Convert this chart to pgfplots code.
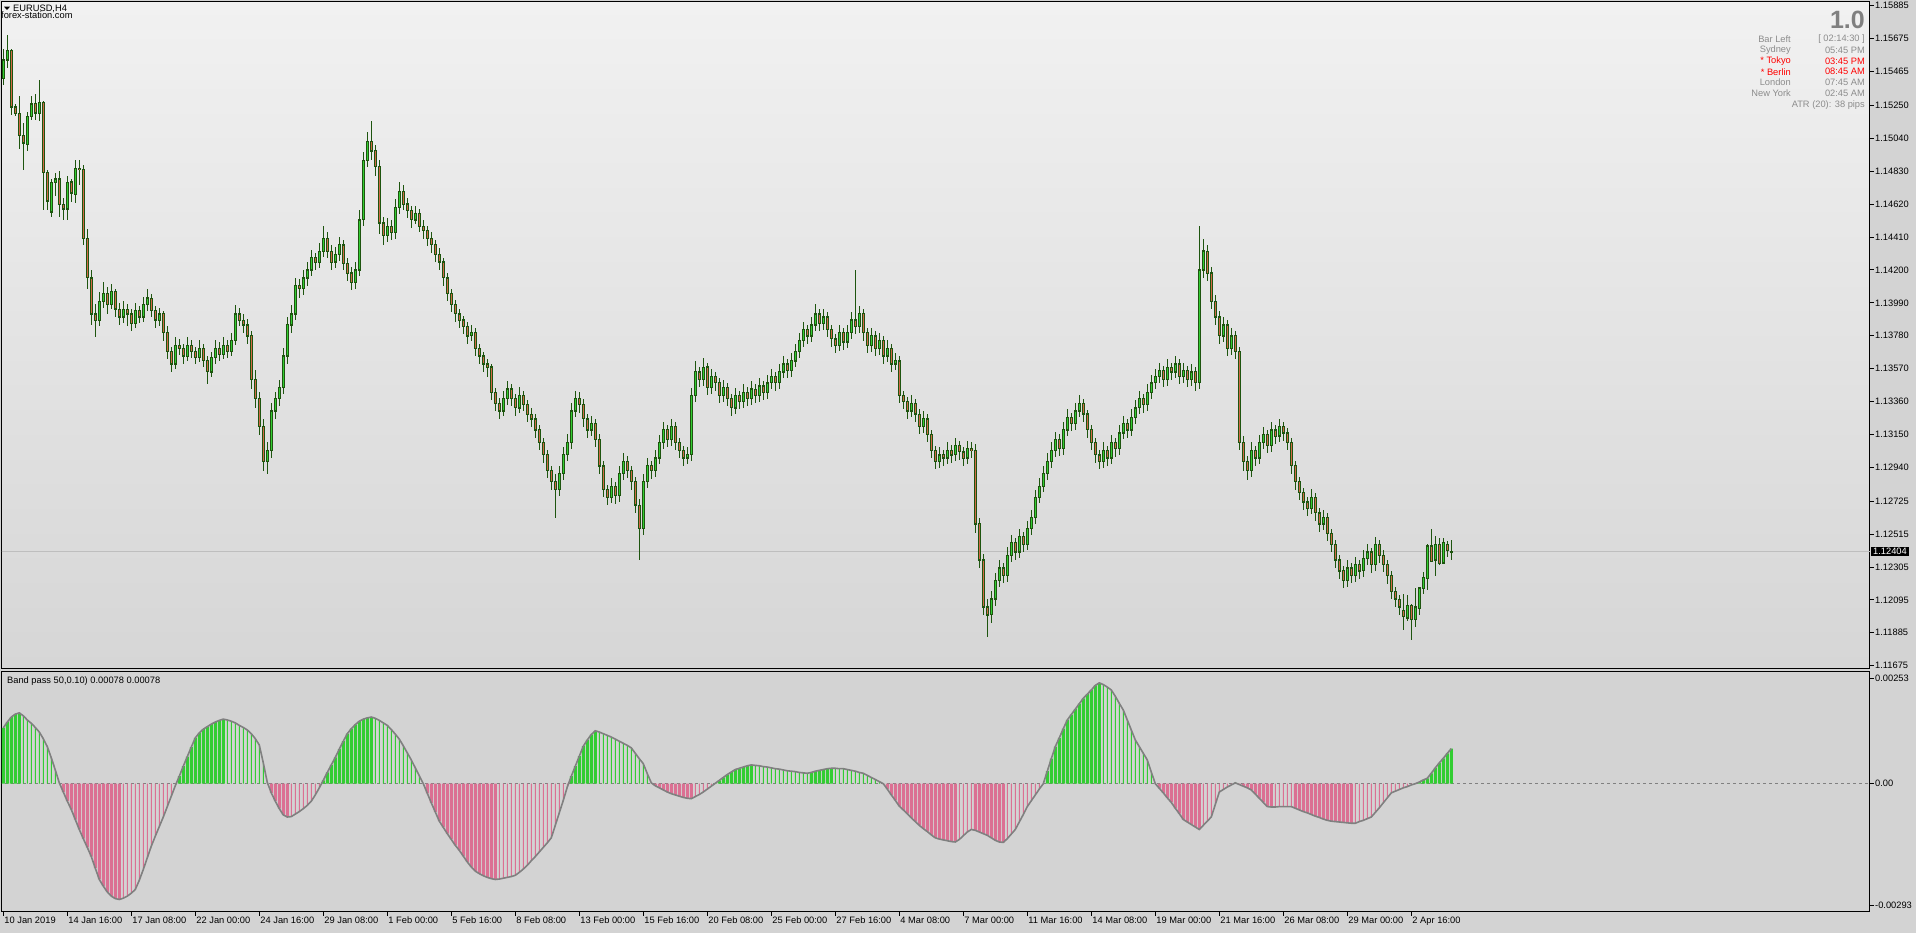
\documentclass[border=0pt]{standalone}
\usepackage{fontspec}
\setmainfont{Liberation Sans}
\usepackage{pgfplots}
\usepackage{pgfplotstable}
\pgfplotsset{compat=1.18}

\definecolor{wick}{RGB}{30,85,15}
\definecolor{bull}{RGB}{50,205,50}
\definecolor{bear}{RGB}{210,105,70}
\definecolor{bpgreen}{RGB}{50,205,50}
\definecolor{bppink}{RGB}{219,112,147}
\definecolor{outerbg}{RGB}{211,211,211}
\definecolor{topbg}{RGB}{241,241,241}
\definecolor{botbg}{RGB}{214,214,214}
\definecolor{infogray}{RGB}{140,140,140}
\definecolor{bigray}{RGB}{128,128,128}

% EURUSD H4: bar index, open, high, low, close, band pass value
\pgfplotstableread{
i o h l c bp
0 1.1542 1.1561 1.1538 1.1554 0.00134
1 1.1554 1.1570 1.1549 1.1560 0.00148
2 1.1560 1.1561 1.1519 1.1524 0.00160
3 1.1524 1.1526 1.1518 1.1520 0.00167
4 1.1520 1.1531 1.1497 1.1506 0.00170
5 1.1506 1.1514 1.1484 1.1501 0.00163
6 1.1500 1.1521 1.1496 1.1518 0.00153
7 1.1518 1.1531 1.1516 1.1526 0.00145
8 1.1526 1.1532 1.1516 1.1520 0.00135
9 1.1520 1.1541 1.1515 1.1527 0.00124
10 1.1527 1.1528 1.1458 1.1482 0.00108
11 1.1482 1.1484 1.1458 1.1464 0.00089
12 1.1457 1.1478 1.1454 1.1476 0.00062
13 1.1476 1.1482 1.1467 1.1478 0.00033
14 1.1478 1.1483 1.1454 1.1462 0.00002
15 1.1462 1.1466 1.1452 1.1459 -0.00020
16 1.1459 1.1480 1.1452 1.1476 -0.00042
17 1.1476 1.1478 1.1463 1.1469 -0.00062
18 1.1468 1.1490 1.1463 1.1485 -0.00086
19 1.1485 1.1490 1.1474 1.1484 -0.00110
20 1.1484 1.1487 1.1436 1.1440 -0.00132
21 1.1440 1.1446 1.1408 1.1415 -0.00153
22 1.1415 1.1420 1.1385 1.1392 -0.00175
23 1.1392 1.1398 1.1377 1.1388 -0.00203
24 1.1388 1.1406 1.1384 1.1400 -0.00230
25 1.1400 1.1412 1.1396 1.1405 -0.00246
26 1.1405 1.1409 1.1392 1.1398 -0.00260
27 1.1398 1.1411 1.1395 1.1406 -0.00270
28 1.1406 1.1408 1.1390 1.1395 -0.00276
29 1.1395 1.1399 1.1385 1.1390 -0.00278
30 1.1390 1.1400 1.1386 1.1395 -0.00275
31 1.1395 1.1398 1.1384 1.1392 -0.00270
32 1.1392 1.1395 1.1381 1.1386 -0.00263
33 1.1386 1.1399 1.1383 1.1394 -0.00254
34 1.1394 1.1397 1.1386 1.1390 -0.00232
35 1.1390 1.1403 1.1387 1.1398 -0.00206
36 1.1398 1.1408 1.1394 1.1402 -0.00178
37 1.1402 1.1405 1.1390 1.1394 -0.00150
38 1.1394 1.1397 1.1383 1.1388 -0.00126
39 1.1388 1.1396 1.1384 1.1392 -0.00103
40 1.1392 1.1394 1.1375 1.1380 -0.00080
41 1.1380 1.1384 1.1363 1.1368 -0.00055
42 1.1368 1.1371 1.1355 1.1360 -0.00030
43 1.1360 1.1377 1.1357 1.1372 -0.00005
44 1.1372 1.1376 1.1366 1.1370 0.00018
45 1.1370 1.1373 1.1360 1.1365 0.00042
46 1.1365 1.1377 1.1362 1.1372 0.00065
47 1.1372 1.1375 1.1364 1.1368 0.00088
48 1.1368 1.1371 1.1360 1.1364 0.00110
49 1.1364 1.1375 1.1361 1.1370 0.00122
50 1.1370 1.1373 1.1358 1.1362 0.00131
51 1.1362 1.1365 1.1347 1.1355 0.00137
52 1.1355 1.1368 1.1352 1.1364 0.00143
53 1.1364 1.1375 1.1360 1.1370 0.00148
54 1.1370 1.1374 1.1362 1.1366 0.00152
55 1.1366 1.1377 1.1363 1.1372 0.00155
56 1.1372 1.1375 1.1364 1.1368 0.00153
57 1.1368 1.1380 1.1365 1.1375 0.00150
58 1.1375 1.1398 1.1372 1.1392 0.00146
59 1.1392 1.1396 1.1384 1.1388 0.00140
60 1.1388 1.1392 1.1380 1.1385 0.00135
61 1.1385 1.1389 1.1373 1.1378 0.00129
62 1.1378 1.1381 1.1344 1.1350 0.00120
63 1.1350 1.1356 1.1332 1.1338 0.00108
64 1.1338 1.1342 1.1315 1.1320 0.00093
65 1.1320 1.1325 1.1292 1.1298 0.00050
66 1.1298 1.1310 1.1290 1.1305 0.00003
67 1.1305 1.1335 1.1300 1.1330 -0.00022
68 1.1330 1.1342 1.1325 1.1338 -0.00042
69 1.1338 1.1350 1.1333 1.1345 -0.00060
70 1.1345 1.1370 1.1341 1.1365 -0.00075
71 1.1365 1.1390 1.1360 1.1385 -0.00080
72 1.1385 1.1398 1.1380 1.1392 -0.00079
73 1.1392 1.1415 1.1388 1.1410 -0.00073
74 1.1410 1.1414 1.1402 1.1408 -0.00067
75 1.1408 1.1420 1.1404 1.1415 -0.00060
76 1.1415 1.1425 1.1410 1.1420 -0.00052
77 1.1420 1.1433 1.1416 1.1428 -0.00042
78 1.1428 1.1431 1.1420 1.1425 -0.00027
79 1.1425 1.1437 1.1421 1.1432 -0.00010
80 1.1432 1.1448 1.1428 1.1440 0.00008
81 1.1440 1.1444 1.1428 1.1432 0.00027
82 1.1432 1.1436 1.1420 1.1425 0.00045
83 1.1425 1.1435 1.1421 1.1430 0.00063
84 1.1430 1.1441 1.1426 1.1436 0.00083
85 1.1436 1.1439 1.1420 1.1424 0.00102
86 1.1424 1.1428 1.1413 1.1418 0.00120
87 1.1418 1.1422 1.1407 1.1412 0.00132
88 1.1412 1.1425 1.1408 1.1420 0.00142
89 1.1420 1.1458 1.1416 1.1452 0.00150
90 1.1452 1.1495 1.1448 1.1490 0.00155
91 1.1490 1.1508 1.1486 1.1502 0.00158
92 1.1502 1.1515 1.1490 1.1496 0.00160
93 1.1496 1.1500 1.1480 1.1486 0.00157
94 1.1486 1.1490 1.1443 1.1450 0.00152
95 1.1450 1.1454 1.1436 1.1442 0.00146
96 1.1442 1.1453 1.1438 1.1448 0.00140
97 1.1448 1.1452 1.1439 1.1444 0.00130
98 1.1444 1.1465 1.1440 1.1460 0.00119
99 1.1460 1.1476 1.1456 1.1470 0.00107
100 1.1470 1.1474 1.1458 1.1462 0.00091
101 1.1462 1.1466 1.1453 1.1458 0.00074
102 1.1458 1.1461 1.1447 1.1452 0.00057
103 1.1452 1.1461 1.1449 1.1456 0.00038
104 1.1456 1.1459 1.1444 1.1448 0.00019
105 1.1448 1.1452 1.1440 1.1445 0.00000
106 1.1445 1.1448 1.1435 1.1440 -0.00023
107 1.1440 1.1444 1.1431 1.1436 -0.00046
108 1.1436 1.1439 1.1425 1.1430 -0.00068
109 1.1430 1.1434 1.1420 1.1425 -0.00090
110 1.1425 1.1428 1.1410 1.1415 -0.00105
111 1.1415 1.1418 1.1400 1.1405 -0.00120
112 1.1405 1.1408 1.1393 1.1398 -0.00134
113 1.1398 1.1401 1.1387 1.1392 -0.00148
114 1.1392 1.1395 1.1383 1.1388 -0.00160
115 1.1388 1.1391 1.1379 1.1384 -0.00174
116 1.1384 1.1387 1.1373 1.1378 -0.00188
117 1.1378 1.1385 1.1375 1.1380 -0.00200
118 1.1380 1.1383 1.1365 1.1370 -0.00210
119 1.1370 1.1373 1.1360 1.1365 -0.00216
120 1.1365 1.1368 1.1355 1.1360 -0.00221
121 1.1360 1.1363 1.1352 1.1358 -0.00225
122 1.1358 1.1360 1.1337 1.1342 -0.00228
123 1.1342 1.1345 1.1330 1.1335 -0.00230
124 1.1335 1.1338 1.1325 1.1330 -0.00229
125 1.1330 1.1343 1.1327 1.1338 -0.00227
126 1.1338 1.1349 1.1334 1.1344 -0.00225
127 1.1344 1.1347 1.1333 1.1338 -0.00223
128 1.1338 1.1341 1.1327 1.1332 -0.00220
129 1.1332 1.1345 1.1329 1.1340 -0.00213
130 1.1340 1.1343 1.1330 1.1334 -0.00205
131 1.1334 1.1337 1.1323 1.1328 -0.00196
132 1.1328 1.1332 1.1320 1.1325 -0.00185
133 1.1325 1.1328 1.1313 1.1318 -0.00175
134 1.1318 1.1321 1.1305 1.1310 -0.00164
135 1.1310 1.1313 1.1297 1.1302 -0.00153
136 1.1302 1.1305 1.1287 1.1292 -0.00142
137 1.1292 1.1295 1.1280 1.1285 -0.00130
138 1.1285 1.1290 1.1262 1.1280 -0.00100
139 1.1280 1.1295 1.1276 1.1290 -0.00070
140 1.1290 1.1307 1.1286 1.1302 -0.00040
141 1.1302 1.1315 1.1298 1.1310 -0.00008
142 1.1310 1.1335 1.1306 1.1330 0.00018
143 1.1330 1.1343 1.1326 1.1338 0.00042
144 1.1338 1.1342 1.1329 1.1334 0.00066
145 1.1334 1.1338 1.1320 1.1325 0.00090
146 1.1325 1.1328 1.1313 1.1318 0.00105
147 1.1318 1.1327 1.1314 1.1322 0.00118
148 1.1322 1.1325 1.1307 1.1312 0.00127
149 1.1312 1.1315 1.1290 1.1295 0.00124
150 1.1295 1.1298 1.1275 1.1280 0.00120
151 1.1280 1.1283 1.1270 1.1275 0.00116
152 1.1275 1.1287 1.1271 1.1282 0.00112
153 1.1282 1.1285 1.1271 1.1276 0.00107
154 1.1276 1.1295 1.1272 1.1290 0.00102
155 1.1290 1.1303 1.1286 1.1298 0.00097
156 1.1298 1.1301 1.1287 1.1292 0.00092
157 1.1292 1.1295 1.1280 1.1285 0.00086
158 1.1285 1.1288 1.1265 1.1270 0.00073
159 1.1270 1.1274 1.1235 1.1255 0.00060
160 1.1255 1.1290 1.1251 1.1285 0.00048
161 1.1285 1.1300 1.1281 1.1295 0.00024
162 1.1295 1.1298 1.1287 1.1292 0.00002
163 1.1292 1.1305 1.1288 1.1300 -0.00005
164 1.1300 1.1315 1.1296 1.1310 -0.00010
165 1.1310 1.1323 1.1306 1.1318 -0.00015
166 1.1318 1.1321 1.1307 1.1312 -0.00020
167 1.1312 1.1325 1.1308 1.1320 -0.00024
168 1.1320 1.1323 1.1305 1.1310 -0.00027
169 1.1310 1.1313 1.1300 1.1305 -0.00030
170 1.1305 1.1308 1.1295 1.1300 -0.00033
171 1.1300 1.1307 1.1296 1.1302 -0.00035
172 1.1302 1.1345 1.1298 1.1340 -0.00036
173 1.1340 1.1362 1.1336 1.1355 -0.00031
174 1.1355 1.1358 1.1345 1.1350 -0.00026
175 1.1350 1.1364 1.1346 1.1358 -0.00020
176 1.1358 1.1361 1.1340 1.1345 -0.00013
177 1.1345 1.1357 1.1341 1.1352 -0.00006
178 1.1352 1.1355 1.1343 1.1348 0.00001
179 1.1348 1.1351 1.1335 1.1340 0.00008
180 1.1340 1.1350 1.1336 1.1345 0.00015
181 1.1345 1.1348 1.1333 1.1338 0.00022
182 1.1338 1.1341 1.1327 1.1332 0.00028
183 1.1332 1.1345 1.1328 1.1340 0.00034
184 1.1340 1.1343 1.1331 1.1336 0.00037
185 1.1336 1.1347 1.1332 1.1342 0.00040
186 1.1342 1.1345 1.1333 1.1338 0.00043
187 1.1338 1.1349 1.1334 1.1344 0.00045
188 1.1344 1.1347 1.1335 1.1340 0.00044
189 1.1340 1.1351 1.1336 1.1346 0.00043
190 1.1346 1.1349 1.1337 1.1342 0.00041
191 1.1342 1.1353 1.1338 1.1348 0.00040
192 1.1348 1.1357 1.1344 1.1352 0.00038
193 1.1352 1.1355 1.1343 1.1348 0.00036
194 1.1348 1.1360 1.1344 1.1355 0.00035
195 1.1355 1.1365 1.1351 1.1360 0.00033
196 1.1360 1.1363 1.1351 1.1356 0.00031
197 1.1356 1.1367 1.1352 1.1362 0.00030
198 1.1362 1.1373 1.1358 1.1368 0.00029
199 1.1368 1.1380 1.1364 1.1375 0.00027
200 1.1375 1.1387 1.1371 1.1382 0.00026
201 1.1382 1.1385 1.1373 1.1378 0.00025
202 1.1378 1.1390 1.1374 1.1385 0.00027
203 1.1385 1.1398 1.1381 1.1392 0.00030
204 1.1392 1.1395 1.1381 1.1386 0.00032
205 1.1386 1.1395 1.1382 1.1390 0.00034
206 1.1390 1.1393 1.1377 1.1382 0.00036
207 1.1382 1.1385 1.1371 1.1376 0.00037
208 1.1376 1.1379 1.1367 1.1372 0.00037
209 1.1372 1.1385 1.1368 1.1380 0.00036
210 1.1380 1.1383 1.1369 1.1374 0.00036
211 1.1374 1.1385 1.1370 1.1380 0.00034
212 1.1380 1.1393 1.1376 1.1388 0.00032
213 1.1388 1.1420 1.1379 1.1384 0.00030
214 1.1384 1.1397 1.1380 1.1392 0.00027
215 1.1392 1.1395 1.1375 1.1380 0.00025
216 1.1380 1.1383 1.1367 1.1372 0.00020
217 1.1372 1.1383 1.1368 1.1378 0.00015
218 1.1378 1.1381 1.1365 1.1370 0.00010
219 1.1370 1.1380 1.1366 1.1375 0.00005
220 1.1375 1.1378 1.1360 1.1365 0.00000
221 1.1365 1.1375 1.1361 1.1370 -0.00013
222 1.1370 1.1373 1.1355 1.1360 -0.00027
223 1.1360 1.1367 1.1356 1.1362 -0.00040
224 1.1362 1.1365 1.1335 1.1340 -0.00054
225 1.1340 1.1343 1.1331 1.1336 -0.00063
226 1.1336 1.1339 1.1325 1.1330 -0.00072
227 1.1330 1.1340 1.1326 1.1335 -0.00082
228 1.1335 1.1338 1.1323 1.1328 -0.00091
229 1.1328 1.1331 1.1315 1.1320 -0.00100
230 1.1320 1.1330 1.1316 1.1325 -0.00108
231 1.1325 1.1328 1.1310 1.1315 -0.00115
232 1.1315 1.1318 1.1300 1.1305 -0.00123
233 1.1305 1.1308 1.1293 1.1298 -0.00130
234 1.1298 1.1307 1.1294 1.1302 -0.00133
235 1.1302 1.1305 1.1295 1.1300 -0.00135
236 1.1300 1.1310 1.1296 1.1305 -0.00137
237 1.1305 1.1308 1.1297 1.1302 -0.00139
238 1.1302 1.1313 1.1298 1.1308 -0.00140
239 1.1308 1.1311 1.1299 1.1304 -0.00134
240 1.1304 1.1307 1.1295 1.1300 -0.00125
241 1.1300 1.1311 1.1296 1.1306 -0.00116
242 1.1306 1.1310 1.1300 1.1305 -0.00110
243 1.1305 1.1309 1.1252 1.1258 -0.00112
244 1.1258 1.1262 1.1230 1.1235 -0.00116
245 1.1235 1.1239 1.1200 1.1205 -0.00120
246 1.1205 1.1210 1.1186 1.1200 -0.00124
247 1.1200 1.1215 1.1195 1.1210 -0.00130
248 1.1210 1.1227 1.1206 1.1222 -0.00136
249 1.1222 1.1235 1.1218 1.1230 -0.00140
250 1.1230 1.1233 1.1220 1.1225 -0.00141
251 1.1225 1.1243 1.1221 1.1238 -0.00132
252 1.1238 1.1251 1.1234 1.1246 -0.00121
253 1.1246 1.1249 1.1235 1.1240 -0.00110
254 1.1240 1.1255 1.1236 1.1250 -0.00092
255 1.1250 1.1253 1.1240 1.1245 -0.00074
256 1.1245 1.1260 1.1241 1.1255 -0.00055
257 1.1255 1.1267 1.1251 1.1262 -0.00041
258 1.1262 1.1280 1.1258 1.1275 -0.00027
259 1.1275 1.1287 1.1271 1.1282 -0.00013
260 1.1282 1.1295 1.1278 1.1290 0.00000
261 1.1290 1.1303 1.1286 1.1298 0.00030
262 1.1298 1.1310 1.1294 1.1305 0.00060
263 1.1305 1.1317 1.1301 1.1312 0.00089
264 1.1312 1.1315 1.1301 1.1306 0.00110
265 1.1306 1.1323 1.1302 1.1318 0.00132
266 1.1318 1.1331 1.1314 1.1326 0.00153
267 1.1326 1.1329 1.1317 1.1322 0.00166
268 1.1322 1.1335 1.1318 1.1330 0.00179
269 1.1330 1.1340 1.1326 1.1335 0.00192
270 1.1335 1.1338 1.1323 1.1328 0.00205
271 1.1328 1.1331 1.1313 1.1318 0.00215
272 1.1318 1.1321 1.1305 1.1310 0.00225
273 1.1310 1.1313 1.1297 1.1302 0.00236
274 1.1302 1.1305 1.1293 1.1298 0.00242
275 1.1298 1.1310 1.1294 1.1305 0.00238
276 1.1305 1.1308 1.1295 1.1300 0.00232
277 1.1300 1.1315 1.1296 1.1310 0.00225
278 1.1310 1.1313 1.1301 1.1306 0.00210
279 1.1306 1.1321 1.1302 1.1316 0.00193
280 1.1316 1.1327 1.1312 1.1322 0.00177
281 1.1322 1.1325 1.1313 1.1318 0.00153
282 1.1318 1.1331 1.1314 1.1326 0.00129
283 1.1326 1.1337 1.1322 1.1332 0.00105
284 1.1332 1.1343 1.1328 1.1338 0.00089
285 1.1338 1.1341 1.1329 1.1334 0.00073
286 1.1334 1.1347 1.1330 1.1342 0.00057
287 1.1342 1.1353 1.1338 1.1348 0.00028
288 1.1348 1.1357 1.1344 1.1352 0.00000
289 1.1352 1.1361 1.1348 1.1356 -0.00011
290 1.1356 1.1359 1.1345 1.1350 -0.00022
291 1.1350 1.1363 1.1346 1.1358 -0.00034
292 1.1358 1.1361 1.1350 1.1355 -0.00045
293 1.1355 1.1365 1.1351 1.1360 -0.00059
294 1.1360 1.1363 1.1347 1.1352 -0.00072
295 1.1352 1.1361 1.1348 1.1356 -0.00086
296 1.1356 1.1359 1.1345 1.1350 -0.00092
297 1.1350 1.1360 1.1346 1.1355 -0.00098
298 1.1355 1.1358 1.1343 1.1348 -0.00104
299 1.1348 1.1448 1.1344 1.1420 -0.00110
300 1.1420 1.1440 1.1415 1.1432 -0.00100
301 1.1432 1.1436 1.1413 1.1418 -0.00090
302 1.1418 1.1422 1.1395 1.1400 -0.00080
303 1.1400 1.1404 1.1385 1.1390 -0.00050
304 1.1390 1.1394 1.1373 1.1378 -0.00020
305 1.1378 1.1390 1.1374 1.1385 -0.00014
306 1.1385 1.1388 1.1365 1.1370 -0.00008
307 1.1370 1.1383 1.1366 1.1378 -0.00003
308 1.1378 1.1381 1.1363 1.1368 0.00002
309 1.1368 1.1371 1.1305 1.1310 -0.00002
310 1.1310 1.1314 1.1292 1.1298 -0.00006
311 1.1298 1.1301 1.1286 1.1292 -0.00010
312 1.1292 1.1310 1.1288 1.1305 -0.00015
313 1.1305 1.1308 1.1295 1.1300 -0.00025
314 1.1300 1.1315 1.1296 1.1310 -0.00035
315 1.1310 1.1320 1.1306 1.1315 -0.00045
316 1.1315 1.1318 1.1303 1.1308 -0.00055
317 1.1308 1.1323 1.1304 1.1318 -0.00056
318 1.1318 1.1321 1.1309 1.1314 -0.00056
319 1.1314 1.1325 1.1310 1.1320 -0.00055
320 1.1320 1.1323 1.1311 1.1316 -0.00055
321 1.1316 1.1319 1.1305 1.1310 -0.00055
322 1.1310 1.1313 1.1290 1.1295 -0.00055
323 1.1295 1.1298 1.1280 1.1285 -0.00059
324 1.1285 1.1288 1.1273 1.1278 -0.00063
325 1.1278 1.1281 1.1267 1.1272 -0.00067
326 1.1272 1.1275 1.1263 1.1268 -0.00070
327 1.1268 1.1280 1.1264 1.1275 -0.00074
328 1.1275 1.1278 1.1260 1.1265 -0.00078
329 1.1265 1.1268 1.1253 1.1258 -0.00081
330 1.1258 1.1267 1.1254 1.1262 -0.00085
331 1.1262 1.1265 1.1247 1.1252 -0.00088
332 1.1252 1.1255 1.1240 1.1245 -0.00090
333 1.1245 1.1248 1.1230 1.1235 -0.00091
334 1.1235 1.1238 1.1223 1.1228 -0.00092
335 1.1228 1.1231 1.1217 1.1222 -0.00093
336 1.1222 1.1235 1.1218 1.1230 -0.00094
337 1.1230 1.1233 1.1220 1.1225 -0.00095
338 1.1225 1.1237 1.1221 1.1232 -0.00095
339 1.1232 1.1235 1.1223 1.1228 -0.00091
340 1.1228 1.1241 1.1224 1.1236 -0.00088
341 1.1236 1.1245 1.1232 1.1240 -0.00084
342 1.1240 1.1243 1.1227 1.1232 -0.00080
343 1.1232 1.1250 1.1228 1.1245 -0.00069
344 1.1245 1.1248 1.1233 1.1238 -0.00058
345 1.1238 1.1241 1.1227 1.1232 -0.00046
346 1.1232 1.1235 1.1220 1.1225 -0.00034
347 1.1225 1.1228 1.1210 1.1215 -0.00022
348 1.1215 1.1218 1.1205 1.1210 -0.00018
349 1.1210 1.1213 1.1200 1.1205 -0.00014
350 1.1203 1.1213 1.1190 1.1199 -0.00010
351 1.1198 1.1213 1.1196 1.1206 -0.00007
352 1.1206 1.1207 1.1184 1.1197 -0.00003
353 1.1197 1.1217 1.1192 1.1205 0.00000
354 1.1204 1.1218 1.1200 1.1217 0.00004
355 1.1217 1.1227 1.1213 1.1224 0.00009
356 1.1223 1.1245 1.1216 1.1244 0.00013
357 1.1244 1.1255 1.1234 1.1234 0.00025
358 1.1235 1.1250 1.1225 1.1245 0.00038
359 1.1245 1.1249 1.1232 1.1233 0.00050
360 1.1233 1.1249 1.1233 1.1246 0.00061
361 1.1245 1.1247 1.1237 1.1241 0.00073
362 1.1240 1.1248 1.1235 1.12404 0.00084
}\bars

% histogram colour class: 1 rising above zero, 2 falling above zero,
% 3 falling below zero, 4 rising below zero
\pgfplotstablecreatecol[create col/assign/.code={%
    \ifnum\pgfplotstablerow=0
      \gdef\bpcat{1}%
    \else
      \begingroup
      \pgfkeys{/pgf/fpu=true,/pgf/fpu/output format=fixed}%
      \pgfmathparse{\thisrow{bp}>0 ? (\thisrow{bp}>\prevrow{bp} ? 1 : 2) : (\thisrow{bp}<\prevrow{bp} ? 3 : 4)}%
      \xdef\bpcat{\pgfmathresult}%
      \endgroup
    \fi
    \pgfkeyslet{/pgfplots/table/create col/next content}\bpcat
  }]{k}\bars

\pgfplotsset{
  mt4/.style={
    scale only axis, anchor=south west, width=1868pt,
    xmin=-0.325, xmax=466.675,
    axis line style={black, line width=1pt},
    tick style={black, line width=0.8pt},
    major tick length=4pt, tick align=outside,
    ytick pos=right, yticklabel pos=right,
    scaled y ticks=false, scaled x ticks=false,
    tick label style={font=\fontsize{9.3}{11}\selectfont, inner sep=1pt},
  },
}

\begin{document}
\begin{tikzpicture}
\fill[outerbg] (0pt,0pt) rectangle (1916pt,933pt);

% price panel
\begin{axis}[mt4,
  at={(2pt,264pt)}, height=667pt,
  ymin=1.11654, ymax=1.15909,
  axis background/.style={top color=topbg, bottom color=botbg},
  xtick=\empty,
  ytick={1.15885,1.15675,1.15465,1.15250,1.15040,1.14830,1.14620,1.14410,1.14200,1.13990,1.13780,1.13570,1.13360,1.13150,1.12940,1.12725,1.12515,1.12305,1.12095,1.11885,1.11675},
  yticklabels={1.15885,1.15675,1.15465,1.15250,1.15040,1.14830,1.14620,1.14410,1.14200,1.13990,1.13780,1.13570,1.13360,1.13150,1.12940,1.12725,1.12515,1.12305,1.12095,1.11885,1.11675},
]
\draw[color={rgb,255:red,190;green,190;blue,190}] (axis cs:-1,1.12404) -- (axis cs:468,1.12404);
% wicks
\addplot[draw=none, mark=none,
  error bars/.cd, y dir=both, y explicit, error mark=none,
  error bar style={draw=wick, line width=1pt}]
  table[x=i, y expr={(\thisrow{h}+\thisrow{l})/2}, y error expr={(\thisrow{h}-\thisrow{l})/2}] {\bars};
% body outlines
\addplot[draw=none, mark=none,
  error bars/.cd, y dir=both, y explicit, error mark=none,
  error bar style={draw=wick, line width=3pt}]
  table[x=i, y expr={(\thisrow{o}+\thisrow{c})/2}, y error expr={abs(\thisrow{c}-\thisrow{o})/2+0.00004}] {\bars};
% bull bodies
\addplot[draw=none, mark=none,
  restrict expr to domain={\thisrow{c}-\thisrow{o}}{0:1},
  error bars/.cd, y dir=both, y explicit, error mark=none,
  error bar style={draw=bull, line width=1.1pt}]
  table[x=i, y expr={(\thisrow{o}+\thisrow{c})/2}, y error expr={max(abs(\thisrow{c}-\thisrow{o})/2-0.00004,0)}] {\bars};
% bear bodies
\addplot[draw=none, mark=none,
  restrict expr to domain={\thisrow{c}-\thisrow{o}}{-1:0},
  error bars/.cd, y dir=both, y explicit, error mark=none,
  error bar style={draw=bear, line width=1.1pt}]
  table[x=i, y expr={(\thisrow{o}+\thisrow{c})/2}, y error expr={max(abs(\thisrow{c}-\thisrow{o})/2-0.00004,0)}] {\bars};
\end{axis}

% band pass panel
\begin{axis}[mt4,
  at={(2pt,21pt)}, height=240.5pt,
  ymin=-0.003081, ymax=0.002694,
  axis background/.style={fill=outerbg},
  xtick pos=left,
  xtick={0,16,...,352},
  xticklabels={10 Jan 2019,14 Jan 16:00,17 Jan 08:00,22 Jan 00:00,24 Jan 16:00,29 Jan 08:00,1 Feb 00:00,5 Feb 16:00,8 Feb 08:00,13 Feb 00:00,15 Feb 16:00,20 Feb 08:00,25 Feb 00:00,27 Feb 16:00,4 Mar 08:00,7 Mar 00:00,11 Mar 16:00,14 Mar 08:00,19 Mar 00:00,21 Mar 16:00,26 Mar 08:00,29 Mar 00:00,2 Apr 16:00},
  xticklabel style={anchor=north west, xshift=0pt},
  ytick={0.00253,0,-0.00293},
  yticklabels={0.00253,0.00,-0.00293},
]
\draw[color={rgb,255:red,128;green,128;blue,128}, dash pattern=on 3pt off 3pt] (axis cs:-1,0) -- (axis cs:468,0);
\addplot[ybar, bar width=3pt, bar shift=0pt, fill=bpgreen, draw=none,
  restrict expr to domain={\thisrow{k}}{0.5:1.5}] table[x=i, y=bp] {\bars};
\addplot[ybar, bar width=1pt, bar shift=0pt, fill=bpgreen, draw=none,
  restrict expr to domain={\thisrow{k}}{1.5:2.5}] table[x=i, y=bp] {\bars};
\addplot[ybar, bar width=3pt, bar shift=0pt, fill=bppink, draw=none,
  restrict expr to domain={\thisrow{k}}{2.5:3.5}] table[x=i, y=bp] {\bars};
\addplot[ybar, bar width=1pt, bar shift=0pt, fill=bppink, draw=none,
  restrict expr to domain={\thisrow{k}}{3.5:4.5}] table[x=i, y=bp] {\bars};
\addplot[color=bigray, line width=1.6pt, mark=none] table[x=i, y=bp] {\bars};
\end{axis}

% texts
\fill[black] (4pt,926.3pt) -- (10pt,926.3pt) -- (7pt,923pt) -- cycle;
\begin{scope}[every node/.style={inner sep=0pt, font=\fontsize{9.3}{11}\selectfont}]
\node[anchor=west] at (13pt,924.5pt) {EURUSD,H4};
\node[anchor=west] at (1pt,917.5pt) {forex-station.com};
\node[anchor=west] at (7pt,252.3pt) {Band pass 50,0.10) 0.00078 0.00078};
\node[anchor=east, text=bigray, font=\fontsize{25}{28}\selectfont\bfseries] at (1865pt,913pt) {1.0};
\node[anchor=east, text=infogray] at (1791pt,893.7pt) {Bar Left};
\node[anchor=east, text=infogray] at (1865pt,893.7pt) {[ 02:14:30 ]};
\node[anchor=east, text=infogray] at (1791pt,883pt) {Sydney};
\node[anchor=east, text=infogray] at (1865pt,883pt) {05:45 PM};
\node[anchor=east, text=red] at (1791pt,872pt) {* Tokyo};
\node[anchor=east, text=red] at (1865pt,872pt) {03:45 PM};
\node[anchor=east, text=red] at (1791pt,861.3pt) {* Berlin};
\node[anchor=east, text=red] at (1865pt,861.3pt) {08:45 AM};
\node[anchor=east, text=infogray] at (1791pt,850.7pt) {London};
\node[anchor=east, text=infogray] at (1865pt,850.7pt) {07:45 AM};
\node[anchor=east, text=infogray] at (1791pt,839.7pt) {New York};
\node[anchor=east, text=infogray] at (1865pt,839.7pt) {02:45 AM};
\node[anchor=east, text=infogray] at (1865pt,828pt) {ATR (20): 38 pips};
\node[anchor=west, fill=black, text=white, inner xsep=2pt, inner ysep=1.5pt] at (1871pt,381.5pt) {1.12404};
\end{scope}
\pgfresetboundingbox
\useasboundingbox (0pt,0pt) rectangle (1916pt,933pt);
\end{tikzpicture}
\end{document}
